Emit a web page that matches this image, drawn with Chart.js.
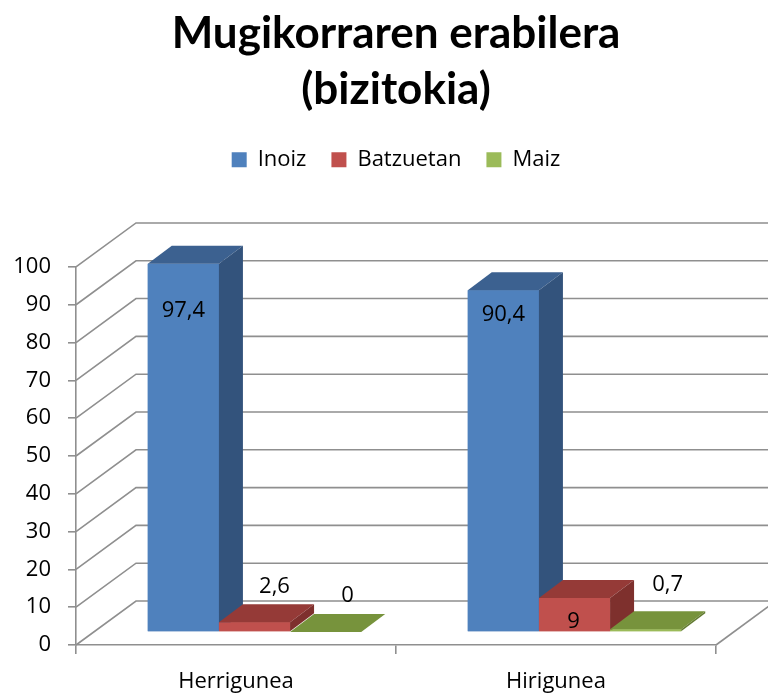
<!DOCTYPE html>
<html lang="eu">
<head>
  <meta charset="UTF-8" />
  <title>Mugikorraren erabilera (bizitokia)</title>
  <script src="https://cdn.jsdelivr.net/npm/chart.js"></script>
  <style>
    html, body { margin: 0; padding: 0; background: #fff; }
    .chart-box { width: 768px; height: 697px; }
  </style>
</head>
<body>
  <div class="chart-box">
    <canvas id="usageChart"></canvas>
  </div>

  <script>
    // datuak
    const categories = ['Herrigunea', 'Hirigunea'];
    const seriesNames = ['Inoiz', 'Batzuetan', 'Maiz'];
    const inoizValues = [97.4, 90.4];
    const batzuetanValues = [2.6, 9];
    const maizValues = [0, 0.7];
    const yTickValues = [0, 10, 20, 30, 40, 50, 60, 70, 80, 90, 100];

    const frontColors = ['#4F81BD', '#C0504D', '#9BBB59'];
    const topColors = ['#3C6190', '#953A37', '#77933C'];
    const sideColors = ['#33537C', '#7E302D', '#637B32'];

    // 3D itxura: hormaren sakonera eta barren kokapena
    const WALL_DX = 60, WALL_DY = -44;
    const BAR_DX = 18.5, BAR_DY = -13;
    const DEPTH_DX = 24, DEPTH_DY = -18;
    // etiketen desplazamendua (barraren goiko erdigunetik)
    const labelShift = [
      [[0, 47], [0, 24]],
      [[20, -35], [-1, 24]],
      [[22, -36], [22, -45]]
    ];

    const textFont = 'Open Sans';
    const fmt = v => String(v).replace('.', ',');

    const depthPlugin = {
      id: 'depth3d',
      beforeDatasetsDraw(chart) {
        const { ctx, chartArea: a, scales: { y } } = chart;
        ctx.save();
        ctx.strokeStyle = '#8f8f8f';
        ctx.lineWidth = 1.6;
        yTickValues.forEach(v => {
          const py = y.getPixelForValue(v);
          ctx.beginPath();
          ctx.moveTo(a.left, py);
          ctx.lineTo(a.left + WALL_DX, py + WALL_DY);
          ctx.lineTo(chart.width, py + WALL_DY);
          ctx.stroke();
        });
        ctx.beginPath();
        ctx.moveTo(a.right, a.bottom);
        ctx.lineTo(a.right + WALL_DX, a.bottom + WALL_DY);
        ctx.stroke();
        ctx.restore();
      },
      // barrak atzeko planoraino mugitu
      beforeDatasetDraw(chart) {
        chart.ctx.save();
        chart.ctx.translate(BAR_DX, BAR_DY);
      },
      afterDatasetDraw(chart) {
        chart.ctx.restore();
      },
      afterDatasetsDraw(chart) {
        const ctx = chart.ctx;
        ctx.save();
        ctx.translate(BAR_DX, BAR_DY);
        // ezkerretik eskuinera marraztu, alboko aurpegiak ondo gainjartzeko
        chart.data.datasets.forEach((ds, i) => {
          chart.getDatasetMeta(i).data.forEach(bar => {
            const { x, y, base, width } = bar.getProps(['x', 'y', 'base', 'width'], true);
            const l = x - width / 2, r = x + width / 2;
            ctx.fillStyle = frontColors[i];
            ctx.fillRect(l, y, width, base - y);
            ctx.fillStyle = topColors[i];
            ctx.beginPath();
            ctx.moveTo(l, y);
            ctx.lineTo(l + DEPTH_DX, y + DEPTH_DY);
            ctx.lineTo(r + DEPTH_DX, y + DEPTH_DY);
            ctx.lineTo(r, y);
            ctx.closePath();
            ctx.fill();
            ctx.fillStyle = sideColors[i];
            ctx.beginPath();
            ctx.moveTo(r, y);
            ctx.lineTo(r + DEPTH_DX, y + DEPTH_DY);
            ctx.lineTo(r + DEPTH_DX, base + DEPTH_DY);
            ctx.lineTo(r, base);
            ctx.closePath();
            ctx.fill();
          });
        });
        ctx.fillStyle = '#000';
        ctx.font = '22px "' + textFont + '"';
        ctx.textAlign = 'center';
        ctx.textBaseline = 'middle';
        chart.data.datasets.forEach((ds, i) => {
          chart.getDatasetMeta(i).data.forEach((bar, j) => {
            const [sx, sy] = labelShift[i][j];
            ctx.fillText(fmt(ds.data[j]), bar.x + sx, bar.y + sy);
          });
        });
        ctx.restore();
      }
    };

    const valueLists = [inoizValues, batzuetanValues, maizValues];

    new Chart(document.getElementById('usageChart'), {
      type: 'bar',
      data: {
        labels: categories,
        datasets: seriesNames.map((name, i) => ({
          label: name,
          data: valueLists[i],
          backgroundColor: frontColors[i],
          borderWidth: 0,
          clip: false
        }))
      },
      options: {
        responsive: true,
        maintainAspectRatio: false,
        animation: false,
        events: [],
        layout: { padding: { top: 0, right: 52, bottom: 0, left: 0 } },
        datasets: { bar: { barPercentage: 1, categoryPercentage: 0.667 } },
        plugins: {
          title: {
            display: true,
            fullSize: false,
            text: ['Mugikorraren erabilera', '(bizitokia)'],
            color: '#000',
            font: { family: 'Lato', size: 44, weight: 'bold', lineHeight: 1.27 },
            padding: { top: 6, bottom: 6 }
          },
          subtitle: {
            display: true,
            fullSize: false,
            text: '',
            weight: 500,
            font: { size: 1 },
            padding: { top: 85, bottom: 0 }
          },
          legend: {
            position: 'top',
            fullSize: false,
            labels: {
              color: '#000',
              boxWidth: 15,
              boxHeight: 15,
              padding: 25,
              font: { family: textFont, size: 22 }
            }
          },
          tooltip: { enabled: false }
        },
        scales: {
          x: {
            grid: {
              offset: true,
              drawOnChartArea: false,
              tickLength: 9,
              color: '#8f8f8f',
              lineWidth: 1.6
            },
            border: { color: '#8f8f8f', width: 1.6 },
            ticks: { color: '#000', padding: 15, font: { family: textFont, size: 22 } },
            afterFit(scale) { scale.height = 52; }
          },
          y: {
            min: 0,
            max: 100,
            grid: {
              drawOnChartArea: false,
              tickLength: 8,
              color: '#8f8f8f',
              lineWidth: 1.6
            },
            border: { color: '#8f8f8f', width: 1.6 },
            ticks: {
              stepSize: 10,
              color: '#000',
              padding: 17,
              font: { family: textFont, size: 22 }
            },
            afterFit(scale) { scale.width = 76; }
          }
        }
      },
      plugins: [depthPlugin]
    });
  </script>
</body>
</html>
